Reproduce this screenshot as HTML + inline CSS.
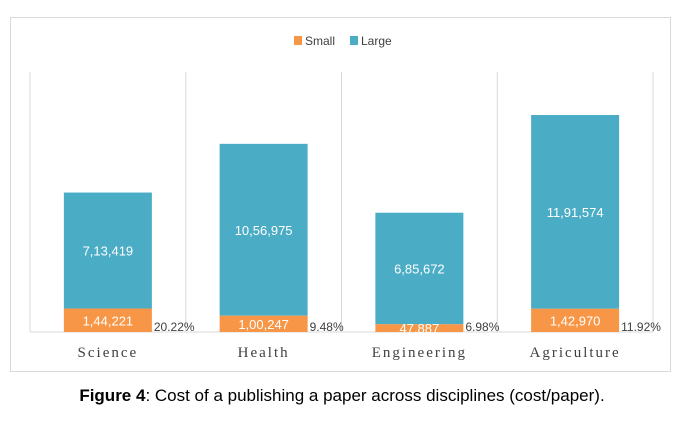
<!DOCTYPE html>
<html><head><meta charset="utf-8"><style>
body{margin:0;background:#fff;width:684px;height:422px;overflow:hidden}
</style></head><body>
<svg width="684" height="422" id="c" font-family="Liberation Sans, sans-serif">
<rect x="10.5" y="17.5" width="660" height="354" fill="#fff" stroke="#d9d9d9" stroke-width="1"/>
<g>
<rect x="294" y="36" width="8" height="9" fill="#f79646"/>
<text x="305" y="45" font-size="12" fill="#404040">Small</text>
<rect x="350" y="36" width="8" height="9" fill="#4bacc6"/>
<text x="361" y="45" font-size="12" fill="#404040">Large</text>
</g>
<g id="plot"></g>
<text x="342" y="401" text-anchor="middle" font-size="17" fill="#000"><tspan font-weight="bold">Figure 4</tspan>: Cost of a publishing a paper across disciplines (cost/paper).</text>
</svg>
<script>
const categories=["Science","Health","Engineering","Agriculture"];
const smallVals=[144221,100247,47887,142970];
const largeVals=[713419,1056975,685672,1191574];
const smallLabels=["1,44,221","1,00,247","47,887","1,42,970"];
const largeLabels=["7,13,419","10,56,975","6,85,672","11,91,574"];
const pctLabels=["20.22%","9.48%","6.98%","11.92%"];
const NS="http://www.w3.org/2000/svg";
const plotG=document.getElementById('plot');
const xStart=30,xEnd=653,yBase=332,yTop=72,perPx=6150;
const bw=(xEnd-xStart)/categories.length;
const yScale=v=>yBase-v/perPx;
function mk(t,a){const e=document.createElementNS(NS,t);for(const k in a)e.setAttribute(k,a[k]);plotG.appendChild(e);return e;}
for(let i=0;i<=categories.length;i++){
 const l=mk('line',{x1:xStart+i*bw,x2:xStart+i*bw,y1:yTop,y2:yBase,stroke:'#d9d9d9'});
 
 
}
const bl=mk('line',{x1:xStart,x2:xEnd,y1:yBase,y2:yBase,stroke:'#d9d9d9'});


categories.forEach((c,i)=>{
 const cx=xStart+bw*(i+0.5),w=88,bx=cx-w/2;
 const ys=yScale(smallVals[i]),yl=yScale(smallVals[i]+largeVals[i]);
 const rl=mk('rect',{x:bx,y:yl,width:w,height:ys-yl,fill:'#4bacc6'});
 
 
 const rs=mk('rect',{x:bx,y:ys,width:w,height:yBase-ys,fill:'#f79646'});
 
 
 const tl=mk('text',{x:cx,y:(ys+yl)/2+5,'text-anchor':'middle','font-size':13,fill:'#fff'});
 tl.textContent=largeLabels[i];
 
 
 const ts=mk('text',{x:cx,y:(ys+yBase)/2+5,'text-anchor':'middle','font-size':13,fill:'#fff'});
 ts.textContent=smallLabels[i];
 
 
 const tp=mk('text',{x:bx+w+2,y:yBase-1,'font-size':12,fill:'#404040'});
 tp.textContent=pctLabels[i];
 
 
 const tc=mk('text',{x:cx,y:357,'text-anchor':'middle','font-size':15,fill:'#404040','font-family':'Liberation Serif, serif','letter-spacing':'2'});
 tc.textContent=c;
 
 
});
</script>
</body></html>
